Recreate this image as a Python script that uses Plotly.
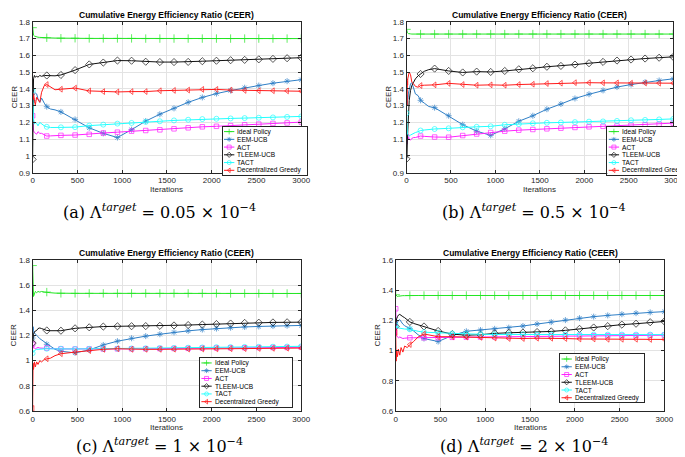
import plotly.graph_objects as go

# ---------------- data ----------------
X = [0, 5, 10, 20, 30, 45, 60, 80, 100, 130, 158, 200, 250, 316, 474, 632, 789, 947,
     1105, 1263, 1421, 1579, 1737, 1895, 2053, 2211, 2368, 2526, 2684, 2842, 3000]
MARK_IDX = [0, 10] + list(range(13, 31))

# (a) target = 0.05e-4
A_IDEAL = [1.765, 1.74, 1.72, 1.715, 1.712, 1.71, 1.708, 1.707, 1.706, 1.705, 1.705, 1.704, 1.703,
           1.702, 1.702, 1.701, 1.701, 1.701, 1.701, 1.700, 1.700, 1.700, 1.700, 1.700, 1.700,
           1.700, 1.700, 1.700, 1.700, 1.700, 1.700]
A_EEM = [1.33, 1.35, 1.36, 1.37, 1.375, 1.37, 1.34, 1.32, 1.345, 1.315, 1.294, 1.28, 1.275,
         1.263, 1.218, 1.168, 1.135, 1.11, 1.157, 1.208, 1.249, 1.284, 1.32, 1.349, 1.372,
         1.39, 1.407, 1.42, 1.434, 1.446, 1.455]
A_ACT = [1.24, 1.19, 1.15, 1.14, 1.135, 1.13, 1.145, 1.135, 1.135, 1.125, 1.119, 1.12, 1.122,
         1.123, 1.125, 1.129, 1.137, 1.142, 1.148, 1.152, 1.156, 1.162, 1.168, 1.174, 1.177,
         1.181, 1.186, 1.19, 1.194, 1.197, 1.202]
A_TLEEM = [0.98, 1.35, 1.46, 1.48, 1.47, 1.475, 1.47, 1.48, 1.475, 1.48, 1.48, 1.476, 1.478,
           1.483, 1.512, 1.546, 1.557, 1.569, 1.568, 1.562, 1.56, 1.56, 1.561, 1.565, 1.568,
           1.571, 1.573, 1.576, 1.579, 1.583, 1.586]
A_TACT = [1.388, 1.28, 1.22, 1.19, 1.2, 1.195, 1.18, 1.2, 1.19, 1.18, 1.174, 1.17, 1.17,
          1.171, 1.172, 1.181, 1.187, 1.193, 1.197, 1.203, 1.207, 1.212, 1.216, 1.22, 1.222,
          1.224, 1.226, 1.228, 1.23, 1.233, 1.236]
A_GREEDY = [1.355, 1.34, 1.36, 1.33, 1.305, 1.35, 1.34, 1.32, 1.38, 1.42, 1.426, 1.41, 1.395,
            1.398, 1.405, 1.388, 1.384, 1.382, 1.384, 1.384, 1.389, 1.391, 1.393, 1.397, 1.397,
            1.393, 1.391, 1.389, 1.389, 1.388, 1.386]

# (b) target = 0.5e-4
B_IDEAL = [1.755, 1.74, 1.735, 1.73, 1.728, 1.728, 1.727, 1.727, 1.727, 1.727, 1.727, 1.727,
           1.727, 1.727, 1.727, 1.727, 1.727, 1.727, 1.727, 1.727, 1.727, 1.727, 1.727, 1.727,
           1.727, 1.727, 1.727, 1.727, 1.727, 1.727, 1.727]
B_EEM = [1.352, 1.3, 1.33, 1.37, 1.4, 1.43, 1.438, 1.4, 1.37, 1.36, 1.332, 1.315, 1.295,
         1.288, 1.24, 1.187, 1.148, 1.123, 1.162, 1.207, 1.24, 1.279, 1.31, 1.343, 1.368,
         1.391, 1.411, 1.426, 1.44, 1.45, 1.46]
B_ACT = [1.115, 1.07, 1.09, 1.11, 1.1, 1.095, 1.105, 1.11, 1.11, 1.115, 1.119, 1.117, 1.114,
         1.113, 1.112, 1.122, 1.131, 1.14, 1.148, 1.154, 1.158, 1.162, 1.166, 1.17, 1.174,
         1.177, 1.179, 1.183, 1.186, 1.19, 1.196]
B_TLEEM = [0.983, 0.99, 1.1, 1.25, 1.33, 1.39, 1.42, 1.44, 1.46, 1.478, 1.489, 1.505, 1.515,
           1.521, 1.507, 1.498, 1.503, 1.501, 1.507, 1.517, 1.523, 1.532, 1.537, 1.545, 1.553,
           1.561, 1.569, 1.575, 1.581, 1.586, 1.591]
B_TACT = [1.255, 1.16, 1.13, 1.125, 1.12, 1.125, 1.13, 1.135, 1.14, 1.145, 1.152, 1.155, 1.158,
          1.161, 1.165, 1.171, 1.174, 1.177, 1.186, 1.19, 1.195, 1.198, 1.2, 1.202, 1.205,
          1.206, 1.209, 1.213, 1.215, 1.218, 1.221]
B_GREEDY = [1.44, 1.3, 1.45, 1.49, 1.5, 1.485, 1.44, 1.43, 1.415, 1.41, 1.42, 1.422, 1.423,
            1.424, 1.433, 1.426, 1.422, 1.424, 1.422, 1.426, 1.428, 1.432, 1.434, 1.437, 1.437,
            1.436, 1.436, 1.434, 1.435, 1.434, 1.434]

# (c) target = 1e-4
C_IDEAL = [1.756, 1.62, 1.51, 1.53, 1.55, 1.54, 1.55, 1.545, 1.55, 1.545, 1.545, 1.54, 1.537,
           1.535, 1.535, 1.535, 1.535, 1.535, 1.535, 1.535, 1.535, 1.535, 1.535, 1.535, 1.535,
           1.534, 1.534, 1.534, 1.534, 1.534, 1.534]
C_EEM = [1.18, 1.27, 1.24, 1.22, 1.21, 1.2, 1.19, 1.175, 1.165, 1.145, 1.13, 1.11, 1.09,
         1.075, 1.062, 1.085, 1.125, 1.155, 1.178, 1.195, 1.21, 1.225, 1.237, 1.247, 1.255,
         1.262, 1.268, 1.272, 1.275, 1.278, 1.28]
C_ACT = [1.132, 1.11, 1.1, 1.1, 1.095, 1.1, 1.105, 1.1, 1.1, 1.1, 1.1, 1.097, 1.095,
         1.093, 1.092, 1.093, 1.093, 1.094, 1.094, 1.095, 1.096, 1.097, 1.098, 1.1, 1.101,
         1.102, 1.103, 1.104, 1.105, 1.105, 1.106]
C_TLEEM = [1.14, 1.19, 1.21, 1.23, 1.235, 1.24, 1.255, 1.26, 1.255, 1.245, 1.24, 1.238, 1.237,
           1.238, 1.257, 1.265, 1.271, 1.273, 1.274, 1.275, 1.277, 1.28, 1.283, 1.287, 1.291,
           1.295, 1.3, 1.302, 1.304, 1.305, 1.306]
C_TACT = [1.06, 1.07, 1.075, 1.08, 1.085, 1.09, 1.09, 1.092, 1.095, 1.095, 1.095, 1.094, 1.093,
          1.095, 1.093, 1.094, 1.095, 1.096, 1.097, 1.098, 1.1, 1.101, 1.103, 1.105, 1.107,
          1.108, 1.109, 1.11, 1.111, 1.112, 1.114]
C_GREEDY = [0.62, 0.98, 0.93, 0.99, 0.95, 0.99, 0.97, 1.0, 0.99, 1.01, 1.015, 1.02, 1.04,
            1.055, 1.068, 1.08, 1.09, 1.095, 1.09, 1.09, 1.09, 1.091, 1.092, 1.093, 1.094,
            1.095, 1.096, 1.097, 1.098, 1.099, 1.1]

# (d) target = 2e-4
D_IDEAL = [1.37, 1.365, 1.36, 1.358, 1.36, 1.362, 1.363, 1.364, 1.364, 1.365, 1.365, 1.365,
           1.365, 1.365, 1.365, 1.365, 1.365, 1.365, 1.365, 1.365, 1.365, 1.365, 1.365, 1.365,
           1.365, 1.365, 1.365, 1.365, 1.365, 1.365, 1.365]
D_EEM = [1.163, 1.17, 1.18, 1.19, 1.2, 1.205, 1.19, 1.175, 1.165, 1.155, 1.145, 1.13, 1.105,
         1.08, 1.06, 1.1, 1.128, 1.136, 1.144, 1.152, 1.163, 1.176, 1.189, 1.202, 1.215,
         1.225, 1.233, 1.241, 1.248, 1.253, 1.258]
D_ACT = [1.277, 1.15, 1.1, 1.09, 1.085, 1.09, 1.085, 1.08, 1.082, 1.085, 1.085, 1.085, 1.085,
         1.085, 1.086, 1.088, 1.089, 1.09, 1.091, 1.092, 1.093, 1.094, 1.095, 1.096, 1.097,
         1.098, 1.099, 1.1, 1.1, 1.101, 1.102]
D_TLEEM = [1.16, 1.19, 1.21, 1.225, 1.235, 1.24, 1.232, 1.225, 1.218, 1.205, 1.19, 1.18, 1.17,
           1.16, 1.13, 1.109, 1.102, 1.105, 1.114, 1.118, 1.12, 1.123, 1.127, 1.134, 1.144,
           1.153, 1.162, 1.172, 1.178, 1.188, 1.193]
D_TACT = [1.167, 1.16, 1.155, 1.15, 1.15, 1.148, 1.147, 1.145, 1.143, 1.142, 1.141, 1.135, 1.128,
          1.122, 1.118, 1.113, 1.11, 1.108, 1.107, 1.107, 1.107, 1.106, 1.106, 1.106, 1.106,
          1.106, 1.106, 1.106, 1.106, 1.106, 1.106]
D_GREEDY = [1.12, 0.93, 1.0, 0.96, 1.01, 0.97, 1.02, 0.99, 1.03, 1.02, 1.04, 1.06, 1.09,
            1.11, 1.092, 1.092, 1.09, 1.088, 1.083, 1.08, 1.08, 1.082, 1.082, 1.08, 1.077,
            1.077, 1.075, 1.075, 1.075, 1.074, 1.074]

NAMES = ["Ideal Policy", "EEM-UCB", "ACT", "TLEEM-UCB", "TACT", "Decentralized Greedy"]
COLORS = ["#22e622", "#2f7fc6", "#ff22ff", "#111111", "#22ffff", "#ff1a1a"]
SYMBOLS = ["cross-thin-open", "asterisk-open", "square-open", "diamond-open",
           "circle-open", "triangle-left-open"]
MSIZE = [6, 5, 4.5, 5.5, 5, 5]
CAP_LETTERS = ["a", "b", "c", "d"]
CAP_VALUES = ["0.05", "0.5", "1", "2"]
TITLE = "Cumulative Energy Efficiency Ratio (CEER)"

SERIES = [
    [A_IDEAL, A_EEM, A_ACT, A_TLEEM, A_TACT, A_GREEDY],
    [B_IDEAL, B_EEM, B_ACT, B_TLEEM, B_TACT, B_GREEDY],
    [C_IDEAL, C_EEM, C_ACT, C_TLEEM, C_TACT, C_GREEDY],
    [D_IDEAL, D_EEM, D_ACT, D_TLEEM, D_TACT, D_GREEDY],
]

# ---------------- layout (pixel geometry) ----------------
W, H = 685, 457
def fx(p):
    return p / W
def fy(p):
    return 1 - p / H

PANELS = [
    dict(box=(23, 296, 10, 164), yr=(0.9, 1.8), dt=0.1, leg=(216, 302, 117, 166), cap=(152, 203)),
    dict(box=(403, 674, 10, 164), yr=(0.9, 1.8), dt=0.1, leg=(607, 684, 117, 166), cap=(533, 203)),
    dict(box=(23, 296, 253, 407), yr=(0.6, 1.8), dt=0.2, leg=(193, 287, 353, 403), cap=(152, 442)),
    dict(box=(392, 665, 253, 407), yr=(0.6, 1.6), dt=0.2, leg=(559, 644, 349, 398), cap=(522, 442)),
]

SANS = "Liberation Sans"
AX_COL = "#262626"
GRID = "#e3e3e3"

fig = go.Figure()
layout = dict(width=W, height=H, margin=dict(l=0, r=0, t=0, b=0),
              paper_bgcolor="white", plot_bgcolor="white", showlegend=False)
annotations = []

for k, P in enumerate(PANELS):
    n = k + 1
    sx = "" if n == 1 else str(n)
    x0, x1, y0, y1 = P["box"]
    layout["xaxis" + sx] = dict(
        domain=[fx(x0), fx(x1)], range=[0, 3000], dtick=500, tick0=0,
        anchor="y" + sx, showgrid=True, gridcolor=GRID, gridwidth=1, zeroline=False,
        showline=True, linecolor=AX_COL, linewidth=1, mirror="allticks",
        ticks="inside", ticklen=3, tickcolor=AX_COL, tickwidth=1,
        tickfont=dict(family=SANS, size=8, color=AX_COL))
    layout["yaxis" + sx] = dict(
        domain=[fy(y1), fy(y0)], range=list(P["yr"]), dtick=P["dt"], tick0=0,
        anchor="x" + sx, showgrid=True, gridcolor=GRID, gridwidth=1, zeroline=False,
        showline=True, linecolor=AX_COL, linewidth=1, mirror="allticks",
        ticks="inside", ticklen=3, tickcolor=AX_COL, tickwidth=1,
        tickfont=dict(family=SANS, size=8, color=AX_COL))

    for j, ys in enumerate(SERIES[k]):
        sizes = [MSIZE[j] if i in MARK_IDX else 0 for i in range(len(X))]
        fig.add_trace(go.Scatter(
            x=X, y=ys, mode="lines+markers", name=NAMES[j],
            xaxis="x" + sx, yaxis="y" + sx,
            line=dict(color=COLORS[j], width=1),
            marker=dict(symbol=SYMBOLS[j], size=sizes, color=COLORS[j],
                        line=dict(color=COLORS[j], width=1)),
            showlegend=False, hoverinfo="skip"))

    # titles / axis labels
    cx = (x0 + x1) / 2
    cy = (y0 + y1) / 2
    annotations.append(dict(text="<b>" + TITLE + "</b>", x=fx(cx), y=fy(y0 - 7),
                            xref="paper", yref="paper", showarrow=False,
                            xanchor="center", yanchor="middle",
                            font=dict(family=SANS, size=8.5, color="#000000")))
    annotations.append(dict(text="Iterations", x=fx(cx), y=fy(y1 + 17),
                            xref="paper", yref="paper", showarrow=False,
                            xanchor="center", yanchor="middle",
                            font=dict(family=SANS, size=8, color=AX_COL)))
    annotations.append(dict(text="CEER", x=fx(x0 - 19), y=fy(cy), textangle=-90,
                            xref="paper", yref="paper", showarrow=False,
                            xanchor="center", yanchor="middle",
                            font=dict(family=SANS, size=8, color=AX_COL)))
    capx, capy = P["cap"]
    annotations.append(dict(
        text="(" + CAP_LETTERS[k] + ") \u039b<sup><i>target</i></sup> = " + CAP_VALUES[k]
             + " \u00d7 10<sup>\u22124</sup>",
        x=fx(capx), y=fy(capy), xref="paper", yref="paper", showarrow=False,
        xanchor="center", yanchor="middle",
        font=dict(family="DejaVu Serif", size=16, color="#000000")))

    # legend drawn as an inset subplot with its own white background
    lx0, lx1, ly0, ly1 = P["leg"]
    ln = n + 4
    lw, lh = lx1 - lx0, ly1 - ly0
    layout["xaxis" + str(ln)] = dict(
        domain=[fx(lx0), fx(lx1)], range=[0, lw], anchor="y" + str(ln),
        showgrid=False, zeroline=False, showticklabels=False, ticks="",
        showline=True, mirror=True, linecolor=AX_COL, linewidth=1, fixedrange=True)
    layout["yaxis" + str(ln)] = dict(
        domain=[fy(ly1), fy(ly0)], range=[lh, 0], anchor="x" + str(ln),
        showgrid=False, zeroline=False, showticklabels=False, ticks="",
        showline=True, mirror=True, linecolor=AX_COL, linewidth=1, fixedrange=True)
    for j, name in enumerate(NAMES):
        ry = 5 + 7.9 * j
        fig.add_trace(go.Scatter(
            x=[1.5, 6.75, 12], y=[ry, ry, ry], mode="lines+markers",
            xaxis="x" + str(ln), yaxis="y" + str(ln),
            line=dict(color=COLORS[j], width=1),
            marker=dict(symbol=SYMBOLS[j], size=[0, 4, 0], color=COLORS[j],
                        line=dict(color=COLORS[j], width=1)),
            showlegend=False, hoverinfo="skip"))
        annotations.append(dict(text=name, x=13, y=ry, xref="x" + str(ln), yref="y" + str(ln),
                                showarrow=False, xanchor="left", yanchor="middle",
                                font=dict(family=SANS, size=6.6, color="#000000")))

layout["annotations"] = annotations
fig.update_layout(**layout)
fig.write_html("out.html")
